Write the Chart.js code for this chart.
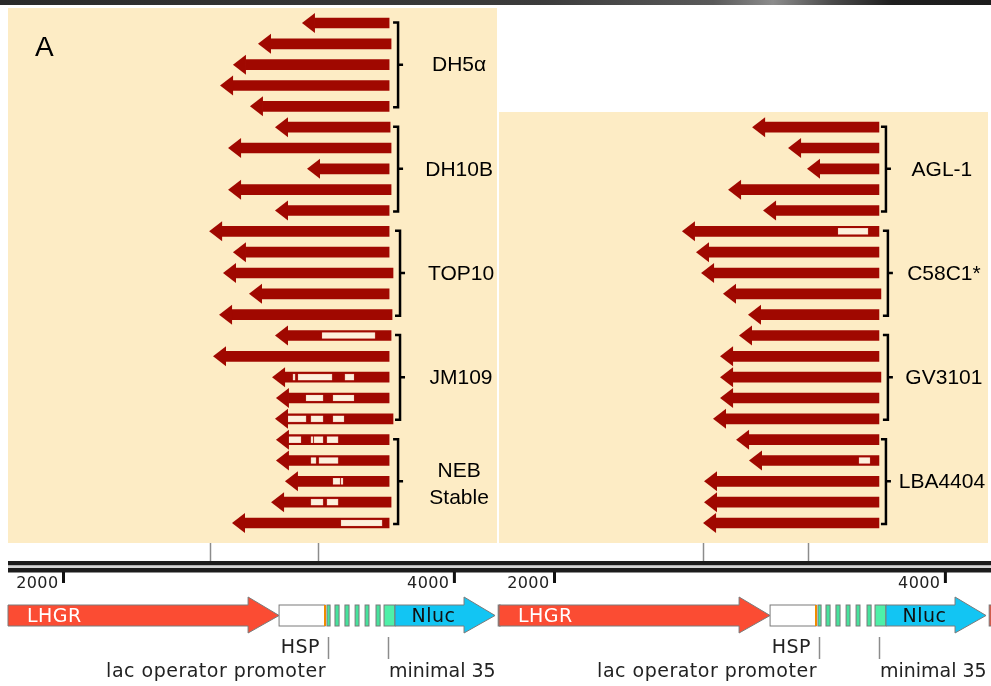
<!DOCTYPE html>
<html>
<head>
<meta charset="utf-8">
<script src="https://cdn.jsdelivr.net/npm/chart.js@4/dist/chart.umd.min.js"></script>
<style>
  html, body { margin: 0; padding: 0; background: #fff; width: 991px; height: 686px; overflow: hidden; }
  #topbar { position: absolute; left: 0; top: 0; width: 991px; height: 5px;
    background: linear-gradient(90deg, #2a2a2a 0%, #343434 30%, #3c3c3c 55%, #5a5a5a 72%, #8c8c8c 78%, #4a4a4a 84%, #1f1f1f 90%, #1c1c1c 100%); }
  canvas { position: absolute; top: 0; }
  #left { left: 0; }
  #right { left: 491px; }
</style>
</head>
<body>
<div id="topbar"></div>
<canvas id="left" width="502" height="686"></canvas>
<canvas id="right" width="500" height="686"></canvas>
<script>
// ---- Reads (reverse orientation), coordinates in bp ----
const leftStrains = ['DH5α', 'DH10B', 'TOP10', 'JM109', ['NEB', 'Stable']];
const leftReadStart = [3220, 2995, 2867, 2801, 2954,
                       3082, 2842, 3246, 2842, 3082,
                       2745, 2867, 2816, 2949, 2796,
                       3082, 2765, 3067, 3087, 3082,
                       3087, 3087, 3133, 3062, 2862];
const leftReadEnd   = [3666, 3676, 3666, 3666, 3666,
                       3671, 3676, 3666, 3676, 3666,
                       3666, 3666, 3686, 3666, 3681,
                       3676, 3666, 3666, 3666, 3686,
                       3666, 3666, 3666, 3676, 3666];
// [read index, gap start, gap end]
const leftGaps = [[15, 3323, 3594],
                  [17, 3174, 3185], [17, 3200, 3374], [17, 3440, 3486],
                  [18, 3241, 3328], [18, 3379, 3486],
                  [19, 3149, 3241], [19, 3266, 3328], [19, 3379, 3435],
                  [20, 3133, 3215], [20, 3266, 3277], [20, 3282, 3328], [20, 3348, 3405],
                  [21, 3266, 3292], [21, 3307, 3405],
                  [22, 3379, 3415], [22, 3420, 3430],
                  [23, 3266, 3328], [23, 3348, 3405],
                  [24, 3420, 3630]];
const leftSiteMarks = [2750, 3302];

const rightStrains = ['AGL-1', 'C58C1*', 'GV3101', 'LBA4404'];
const rightReadStart = [3011, 3195, 3292, 2888, 3067,
                        2652, 2724, 2750, 2862, 2990,
                        2944, 2847, 2847, 2847, 2811,
                        2929, 2995, 2765, 2765, 2760];
const rightReadEnd   = [3660, 3660, 3660, 3660, 3660,
                        3660, 3660, 3660, 3670, 3660,
                        3660, 3660, 3670, 3660, 3660,
                        3660, 3660, 3660, 3660, 3660];
const rightGaps = [[5, 3451, 3604], [16, 3558, 3614]];
const rightSiteMarks = [2760, 3297];

// ---- Plasmid map (bp) ----
const rulerTicks = [2000, 4000];
const rulerTickLabels = ['2000', '4000'];
const lhgr = [1716, 3103];
const hsp = [3103, 3338];
const lacOperators = [[3348, 3364], [3389, 3410], [3440, 3461], [3492, 3512], [3543, 3563], [3599, 3620]];
const minimal35 = [3640, 3696];
const nluc = [3696, 4208];
const nextFeatureStart = 4224;
const labelMarks = [3353, 3660];

// ---- Layout ----
const X_MIN = 1716, X_MAX = 4218;
const PLOT_W = 489;
const Y_MIN = -1.104, Y_MAX = 31.824;
const HEAD_PX = 13, HEAD_HALF = 10;
const HEAD_BP = HEAD_PX * (X_MAX - X_MIN) / PLOT_W;
const READ_RED = '#a00800';
const GAP_FILL = '#fdf0dc';
const BEIGE = '#fdecc5';
const LABEL_FONT = '"Liberation Sans", Arial, sans-serif';
const MAP_FONT = '"DejaVu Sans", Verdana, sans-serif';

function readBodies(starts, ends, offset) {
  return starts.map((s, i) => ({ x: [s + HEAD_BP - 2, ends[i]], y: i + offset }));
}
function gapBars(gaps, offset) {
  return gaps.map(([r, s, e]) => ({ x: [s, e], y: r + offset }));
}

function mapArrow(ctx, x0, xTip, top, bottom, headTop, headBottom, fill) {
  const mid = (top + bottom) / 2;
  const base = xTip - 31;
  ctx.beginPath();
  ctx.moveTo(x0, top);
  ctx.lineTo(base, top);
  ctx.lineTo(base, headTop);
  ctx.lineTo(xTip, mid);
  ctx.lineTo(base, headBottom);
  ctx.lineTo(base, bottom);
  ctx.lineTo(x0, bottom);
  ctx.closePath();
  ctx.fillStyle = fill;
  ctx.fill();
  ctx.strokeStyle = '#7a7a7a';
  ctx.lineWidth = 1;
  ctx.stroke();
}

function panelPlugin(cfg) {
  return {
    id: 'panelDecor',
    beforeDatasetsDraw(chart) {
      const { ctx, chartArea: a, scales: { y } } = chart;
      ctx.save();
      ctx.fillStyle = BEIGE;
      const top = Math.round(y.getPixelForValue(cfg.offset) - 15);
      const bottom = Math.round(y.getPixelForValue(24) + 20);
      ctx.fillRect(a.left, top, a.right - a.left, bottom - top);
      ctx.restore();
    },
    afterDatasetsDraw(chart) {
      const { ctx, chartArea: a, scales: { x, y } } = chart;
      ctx.save();

      // arrowheads at the 5' end of each read
      ctx.fillStyle = READ_RED;
      cfg.starts.forEach((s, i) => {
        const yc = y.getPixelForValue(i + cfg.offset);
        const xt = x.getPixelForValue(s);
        ctx.beginPath();
        ctx.moveTo(xt, yc);
        ctx.lineTo(xt + HEAD_PX, yc - HEAD_HALF);
        ctx.lineTo(xt + HEAD_PX, yc + HEAD_HALF);
        ctx.closePath();
        ctx.fill();
      });

      // strain brackets and names
      ctx.strokeStyle = '#000';
      ctx.fillStyle = '#000';
      ctx.lineWidth = 2.5;
      cfg.strains.forEach((name, g) => {
        const first = g * 5, last = g * 5 + 4;
        const maxEnd = Math.max(...cfg.ends.slice(first, last + 1));
        const bx = x.getPixelForValue(maxEnd) + 7;
        const yTop = y.getPixelForValue(first + cfg.offset) - 0.5;
        const yBot = y.getPixelForValue(last + cfg.offset) + 1;
        const yMid = y.getPixelForValue(first + 2 + cfg.offset);
        ctx.beginPath();
        ctx.moveTo(bx - 5, yTop);
        ctx.lineTo(bx, yTop);
        ctx.lineTo(bx, yBot);
        ctx.lineTo(bx - 5, yBot);
        ctx.moveTo(bx, yMid);
        ctx.lineTo(bx + 5, yMid);
        ctx.stroke();
        ctx.font = '21px ' + LABEL_FONT;
        ctx.textAlign = 'center';
        ctx.textBaseline = 'middle';
        const lx = bx + cfg.labelOffset;
        if (Array.isArray(name)) {
          ctx.fillText(name[0], lx, yMid - 10);
          ctx.fillText(name[1], lx, yMid + 17);
        } else {
          ctx.fillText(name, lx, yMid + 1);
        }
      });

      if (cfg.letter) {
        ctx.font = '28px ' + LABEL_FONT;
        ctx.textAlign = 'left';
        ctx.textBaseline = 'alphabetic';
        ctx.fillText(cfg.letter, a.left + 27, 56);
      }

      // ruler
      const rulerRight = cfg.rulerRight;
      const rulerLeft = cfg.rulerLeft;
      ctx.strokeStyle = '#8c8c8c';
      ctx.lineWidth = 1.5;
      cfg.siteMarks.forEach(v => {
        const px = Math.round(x.getPixelForValue(v)) + 0.5;
        ctx.beginPath();
        ctx.moveTo(px, 543);
        ctx.lineTo(px, 561);
        ctx.stroke();
      });
      ctx.fillStyle = '#1c1c1c';
      ctx.fillRect(rulerLeft, 561, rulerRight - rulerLeft, 4.5);
      ctx.fillStyle = '#d6d6d6';
      ctx.fillRect(rulerLeft, 565.5, rulerRight - rulerLeft, 2.5);
      ctx.fillStyle = '#1c1c1c';
      ctx.fillRect(rulerLeft, 568, rulerRight - rulerLeft, 4.5);

      ctx.font = '16px ' + MAP_FONT;
      ctx.letterSpacing = '0.4px';
      ctx.textAlign = 'right';
      ctx.textBaseline = 'alphabetic';
      rulerTicks.forEach((v, i) => {
        const px = x.getPixelForValue(v);
        ctx.fillStyle = '#111';
        ctx.fillRect(px - 1.5, 572, 3, 11);
        ctx.fillStyle = '#222';
        ctx.fillText(rulerTickLabels[i], px - 5, 588);
      });

      // features
      const top = 605, bottom = 626, headTop = 597, headBottom = 633;
      mapArrow(ctx, x.getPixelForValue(lhgr[0]), x.getPixelForValue(lhgr[1]), top, bottom, headTop, headBottom, '#fb4c33');
      const hx0 = x.getPixelForValue(hsp[0]), hx1 = x.getPixelForValue(hsp[1]);
      ctx.fillStyle = '#fff';
      ctx.fillRect(hx0, top, hx1 - hx0, bottom - top);
      ctx.strokeStyle = '#7a7a7a';
      ctx.lineWidth = 1;
      ctx.strokeRect(hx0, top, hx1 - hx0, bottom - top);
      ctx.strokeStyle = '#f08c00';
      ctx.lineWidth = 2;
      ctx.beginPath();
      ctx.moveTo(hx1, top);
      ctx.lineTo(hx1, bottom);
      ctx.stroke();
      ctx.lineWidth = 1;
      ctx.strokeStyle = '#7a7a7a';
      lacOperators.concat([minimal35]).forEach(([s, e], i) => {
        const x0 = x.getPixelForValue(s), x1 = x.getPixelForValue(e);
        ctx.fillStyle = i === lacOperators.length ? '#4ef0a8' : '#46e29c';
        ctx.fillRect(x0, top, x1 - x0, bottom - top);
        ctx.strokeRect(x0, top, x1 - x0, bottom - top);
      });
      mapArrow(ctx, x.getPixelForValue(nluc[0]), x.getPixelForValue(nluc[1]), top, bottom, headTop, headBottom, '#12c5f3');
      const nf = x.getPixelForValue(nextFeatureStart);
      ctx.fillStyle = '#fb4c33';
      ctx.fillRect(nf, top, 2, bottom - top);
      ctx.strokeStyle = '#7a7a7a';
      ctx.strokeRect(nf, top, 2, bottom - top);

      ctx.font = '19px ' + MAP_FONT;
      ctx.letterSpacing = '0.5px';
      ctx.textBaseline = 'middle';
      ctx.textAlign = 'left';
      ctx.fillStyle = '#fff';
      ctx.fillText('LHGR', a.left + 19, 617);
      ctx.textAlign = 'center';
      ctx.fillStyle = '#111';
      const nBody = (x.getPixelForValue(nluc[0]) + x.getPixelForValue(nluc[1]) - 31) / 2;
      ctx.fillText('Nluc', nBody + 4, 617);

      // feature labels with leader marks
      ctx.strokeStyle = '#8c8c8c';
      ctx.lineWidth = 1.5;
      labelMarks.forEach(v => {
        const px = Math.round(x.getPixelForValue(v)) + 0.5;
        ctx.beginPath();
        ctx.moveTo(px, 637);
        ctx.lineTo(px, 659);
        ctx.stroke();
      });
      const m0 = x.getPixelForValue(labelMarks[0]);
      const m1 = x.getPixelForValue(labelMarks[1]);
      ctx.fillStyle = '#222';
      ctx.textBaseline = 'alphabetic';
      ctx.textAlign = 'right';
      ctx.fillText('HSP', m0 - 8, 653);
      ctx.fillText('lac operator promoter', m0 - 2, 677);
      ctx.letterSpacing = '0px';
      ctx.textAlign = 'left';
      ctx.fillText('minimal 35', m1 + 1, 677);

      ctx.restore();
    }
  };
}

function makePanel(canvasId, cfg) {
  return new Chart(document.getElementById(canvasId), {
    type: 'bar',
    data: {
      datasets: [
        { data: readBodies(cfg.starts, cfg.ends, cfg.offset), backgroundColor: READ_RED,
          barThickness: 10, grouped: false, borderWidth: 0, borderSkipped: false, order: 2 },
        { data: gapBars(cfg.gaps, cfg.offset), backgroundColor: GAP_FILL,
          borderColor: '#f3c9b8', borderWidth: 0.6, borderSkipped: false,
          barThickness: 6, grouped: false, order: 1 }
      ]
    },
    options: {
      indexAxis: 'y',
      responsive: false,
      animation: false,
      events: [],
      layout: { padding: cfg.padding },
      scales: {
        x: { type: 'linear', min: X_MIN, max: X_MAX, offset: false, display: false },
        y: { type: 'linear', min: Y_MIN, max: Y_MAX, reverse: true, offset: false, display: false }
      },
      plugins: { legend: { display: false }, tooltip: { enabled: false } }
    },
    plugins: [panelPlugin(cfg)]
  });
}

makePanel('left', {
  starts: leftReadStart, ends: leftReadEnd, gaps: leftGaps, offset: 0,
  strains: leftStrains, labelOffset: 61, letter: 'A', siteMarks: leftSiteMarks,
  padding: { left: 8, right: 5, top: 0, bottom: 0 }, rulerLeft: 8, rulerRight: 497
});
makePanel('right', {
  starts: rightReadStart, ends: rightReadEnd, gaps: rightGaps, offset: 5,
  strains: rightStrains, labelOffset: 56, letter: null, siteMarks: rightSiteMarks,
  padding: { left: 8, right: 3, top: 0, bottom: 0 }, rulerLeft: 6, rulerRight: 500
});
</script>
</body>
</html>
